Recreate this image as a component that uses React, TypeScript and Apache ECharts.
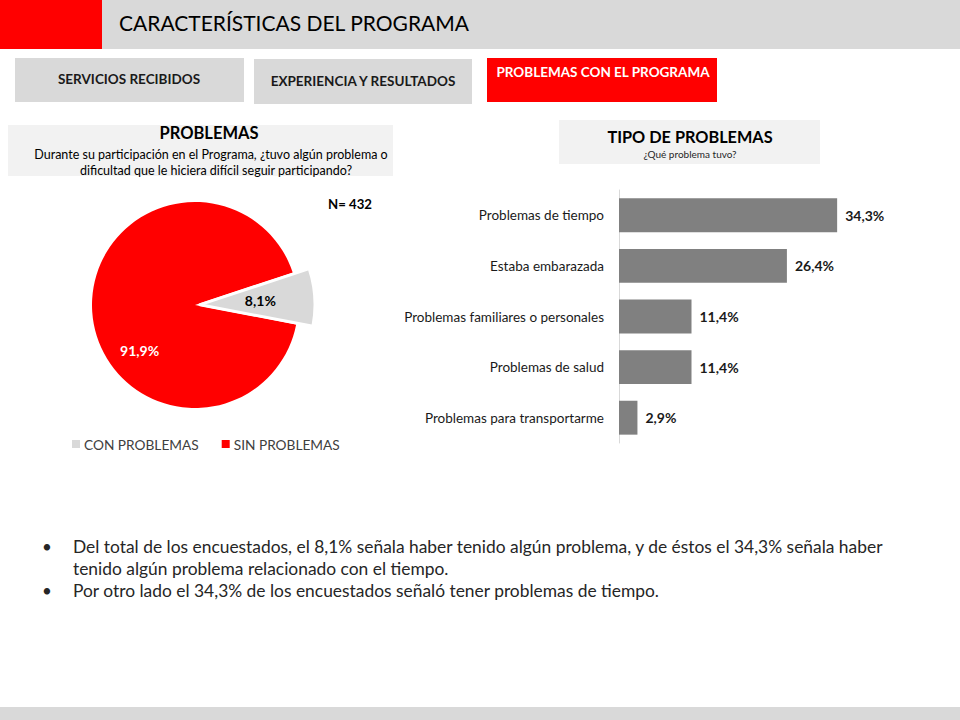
import React, { useEffect, useRef } from "react";
import * as echarts from "echarts";

const pieNames = ["CON PROBLEMAS", "SIN PROBLEMAS"];
const pieValues = [8.1, 91.9];
const pieColors = ["#D9D9D9", "#FF0000"];

const barCategories = [
  "Problemas de tiempo",
  "Estaba embarazada",
  "Problemas familiares o personales",
  "Problemas de salud",
  "Problemas para transportarme",
];
const barValues = [34.3, 26.4, 11.4, 11.4, 2.9];

const tabLabels = ["SERVICIOS RECIBIDOS", "EXPERIENCIA Y RESULTADOS", "PROBLEMAS CON EL PROGRAMA"];

const bullets = [
  ["Del total de los encuestados, el 8,1% señala haber tenido algún problema, y de éstos el 34,3% señala haber", "tenido algún problema relacionado con el tiempo."],
  ["Por otro lado el 34,3% de los encuestados señaló tener problemas de tiempo."],
];

const FONT = "Lato, 'Noto Sans', sans-serif";
const fmt = (v: number) => v.toFixed(1).replace(".", ",") + "%";

export default function App() {
  const ref = useRef<HTMLDivElement>(null);
  useEffect(() => {
    if (!ref.current) return;
    const chart = echarts.init(ref.current, null, { renderer: "svg" });

    const bulletGraphics: any[] = [];
    let y = 546;
    bullets.forEach((lines) => {
      bulletGraphics.push({
        type: "text", x: 42, y, style: { text: "•", font: `17px ${FONT}`, fill: "#262626", verticalAlign: "middle" },
      });
      lines.forEach((ln) => {
        bulletGraphics.push({
          type: "text", x: 73, y, style: { text: ln, font: `17.4px ${FONT}`, fill: "#262626", verticalAlign: "middle" },
        });
        y += 22;
      });
    });

    const centerTxt = (text: string, x: number, yy: number, font: string, fill: string) => ({
      type: "text", x, y: yy, style: { text, font, fill, align: "center", verticalAlign: "middle" },
    });

    chart.setOption({
      animation: false,
      backgroundColor: "#FFFFFF",
      textStyle: { fontFamily: FONT },
      graphic: [
        { type: "rect", shape: { x: 0, y: 0, width: 960, height: 49 }, style: { fill: "#D9D9D9" } },
        { type: "rect", shape: { x: 0, y: 0, width: 102, height: 49 }, style: { fill: "#FF0000" } },
        { type: "text", left: 119, top: 12, style: { text: "CARACTERÍSTICAS DEL PROGRAMA", font: `21px ${FONT}`, fill: "#000000" } },
        { type: "rect", shape: { x: 15, y: 58, width: 229, height: 44 }, style: { fill: "#D9D9D9" } },
        centerTxt(tabLabels[0], 129, 79, `bold 13.5px ${FONT}`, "#1a1a1a"),
        { type: "rect", shape: { x: 254, y: 59, width: 218, height: 45 }, style: { fill: "#D9D9D9" } },
        centerTxt(tabLabels[1], 363, 81, `bold 13.5px ${FONT}`, "#1a1a1a"),
        { type: "rect", shape: { x: 487, y: 58, width: 230, height: 44 }, style: { fill: "#FF0000" } },
        centerTxt(tabLabels[2], 603, 72, `bold 13.5px ${FONT}`, "#FFFFFF"),
        { type: "rect", shape: { x: 8, y: 125, width: 385, height: 51 }, style: { fill: "#F2F2F2" } },
        centerTxt("PROBLEMAS", 209, 133, `bold 16.5px ${FONT}`, "#000000"),
        centerTxt("Durante su participación en el Programa, ¿tuvo algún problema o", 211, 154, `12.5px ${FONT}`, "#000000"),
        centerTxt("dificultad que le hiciera difícil seguir participando?", 216, 170, `12.5px ${FONT}`, "#000000"),
        { type: "rect", shape: { x: 559, y: 120, width: 261, height: 44 }, style: { fill: "#F2F2F2" } },
        centerTxt("TIPO DE PROBLEMAS", 690, 136, `bold 16.3px ${FONT}`, "#000000"),
        centerTxt("¿Qué problema tuvo?", 690, 154, `10px ${FONT}`, "#262626"),
        { type: "text", x: 328, y: 204, style: { text: "N= 432", font: `bold 13.2px ${FONT}`, fill: "#000000", verticalAlign: "middle" } },
        ...bulletGraphics,
        { type: "rect", shape: { x: 0, y: 707, width: 960, height: 13 }, style: { fill: "#D9D9D9" } },
      ],
      legend: {
        data: pieNames.map((n, i) => ({ name: n, itemStyle: { color: pieColors[i] } })),
        left: 72,
        top: 437,
        padding: 0,
        itemWidth: 8,
        itemHeight: 8,
        itemGap: 23,
        icon: "rect",
        textStyle: { fontFamily: FONT, fontSize: 13.7, color: "#404040", padding: [0, 0, 0, -1] },
      },
      grid: { left: 619, top: 190, width: 254.4, height: 253 },
      xAxis: { type: "value", min: 0, max: 40, show: false },
      yAxis: {
        type: "category",
        data: barCategories,
        inverse: true,
        axisLine: { show: true, lineStyle: { color: "#D9D9D9", width: 1 } },
        axisTick: { show: false },
        axisLabel: { color: "#1a1a1a", fontSize: 13.5, fontFamily: FONT, margin: 15 },
        splitLine: { show: false },
      },
      series: [
        {
          type: "pie",
          name: "base",
          center: [195, 305],
          radius: [0, 103],
          startAngle: 18.3,
          clockwise: true,
          avoidLabelOverlap: false,
          silent: true,
          data: pieNames.map((n, i) => ({
            name: n,
            value: pieValues[i],
            itemStyle: { color: i === 1 ? pieColors[i] : "rgba(0,0,0,0)" },
            label: {
              show: i === 1,
              position: "inside",
              formatter: fmt(pieValues[i]),
              fontFamily: FONT,
              fontWeight: "bold",
              fontSize: 14,
              color: "#FFFFFF",
              offset: [-1, 42],
            },
          })),
          labelLine: { show: false },
          emphasis: { disabled: true },
        },
        {
          type: "pie",
          name: "exploded",
          center: [195, 305],
          radius: [0, 115],
          startAngle: 18.3,
          clockwise: true,
          selectedMode: "multiple",
          selectedOffset: 5,
          avoidLabelOverlap: false,
          silent: true,
          data: pieNames.map((n, i) => ({
            name: n,
            value: pieValues[i],
            selected: i === 0,
            itemStyle: i === 0
              ? { color: pieColors[i], borderColor: "#FFFFFF", borderWidth: 3 }
              : { color: "rgba(0,0,0,0)" },
            label: {
              show: i === 0,
              position: "inside",
              formatter: fmt(pieValues[i]),
              fontFamily: FONT,
              fontWeight: "bold",
              fontSize: 14,
              color: "#000000",
              offset: [12, -2],
            },
          })),
          labelLine: { show: false },
          emphasis: { disabled: true },
        },
        {
          type: "bar",
          data: barValues,
          barWidth: "67%",
          itemStyle: { color: "#808080" },
          label: {
            show: true,
            position: "right",
            distance: 8,
            formatter: (p: any) => fmt(p.value),
            fontFamily: FONT,
            fontWeight: "bold",
            fontSize: 14,
            color: "#1a1a1a",
          },
          emphasis: { disabled: true },
        },
      ],
    });
    return () => chart.dispose();
  }, []);
  return <div ref={ref} style={{ position: "fixed", left: 0, top: 0, width: 960, height: 720 }} />;
}
